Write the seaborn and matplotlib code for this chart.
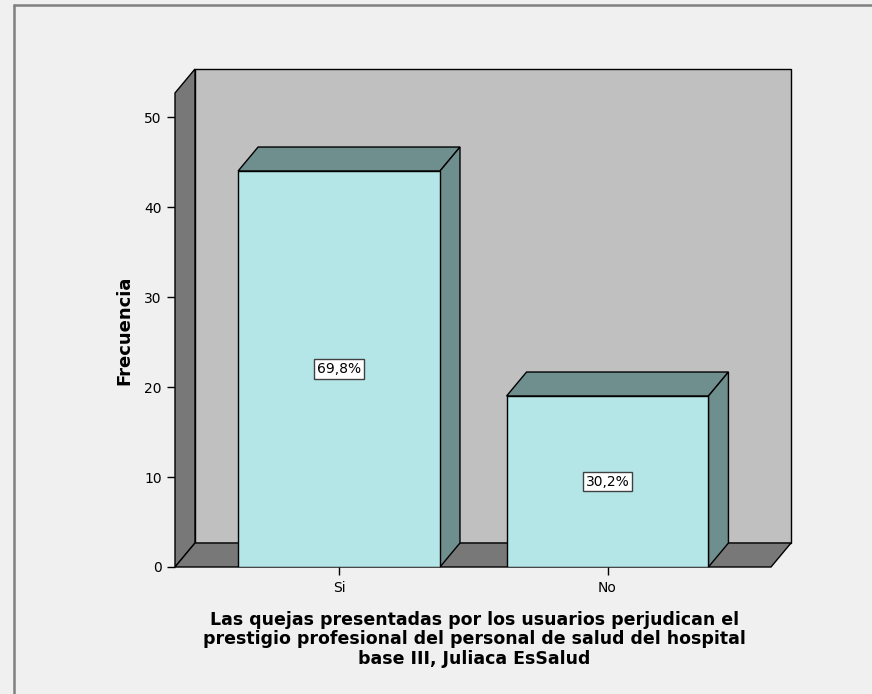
"""
Gráfico de barras estilo SPSS (3D) - quejas de usuarios, EsSalud Juliaca.
"""

import matplotlib
matplotlib.use('Agg')
import matplotlib.pyplot as plt
from matplotlib.patches import Polygon
from matplotlib.transforms import IdentityTransform
from matplotlib.lines import Line2D
import pandas as pd
import seaborn as sns

# Datos
categorias = ['Si', 'No']
frecuencias = [44, 19]
y_ticks = [0, 10, 20, 30, 40, 50]
titulo_x = ('Las quejas presentadas por los usuarios perjudican el\n'
            'prestigio profesional del personal de salud del hospital\n'
            'base III, Juliaca EsSalud')

# Colores
C_FRENTE = '#B4E6E8'
C_LADO = '#6F8E8E'
C_PARED = '#C0C0C0'
C_SUELO = '#787878'
FONDO = '#F0F0F0'

DX, DY = 20, 24  # profundidad 3D en pixeles

sns.set_style('ticks')
plt.rcParams['font.family'] = ['DejaVu Sans']
plt.rcParams['text.color'] = 'black'
plt.rcParams['axes.labelcolor'] = 'black'

fig = plt.figure(figsize=(8.72, 6.94), dpi=100, facecolor=FONDO)
ax = fig.add_axes([175 / 872, 127 / 694, 596 / 872, 474 / 694])
ax.set_facecolor('none')

df = pd.DataFrame({'cat': categorias, 'freq': frecuencias})
sns.barplot(data=df, x='cat', y='freq', color=C_FRENTE, saturation=1,
            width=0.752, edgecolor='black', linewidth=1, ax=ax, zorder=5)
ax.set_xlim(-0.611, 1.609)
ax.set_ylim(0, 52.67)
x0, x1 = ax.get_xlim()
ytop = ax.get_ylim()[1]


def pt(x, y, d=0.0):
    px, py = ax.transData.transform((x, y))
    return (px + d * DX, py + d * DY)


def cara(verts, color, z):
    poly = Polygon(verts, closed=True, facecolor=color, edgecolor='black',
                   linewidth=1, transform=IdentityTransform(), clip_on=False,
                   zorder=z)
    ax.add_artist(poly)


# Paredes y suelo
cara([pt(x0, 0, 1), pt(x1, 0, 1), pt(x1, ytop, 1), pt(x0, ytop, 1)], C_PARED, 1)
cara([pt(x0, 0, 0), pt(x0, 0, 1), pt(x0, ytop, 1), pt(x0, ytop, 0)], C_SUELO, 2)
cara([pt(x0, 0, 0), pt(x1, 0, 0), pt(x1, 0, 1), pt(x0, 0, 1)], C_SUELO, 2)

# Caras superior y lateral de cada barra
total = sum(frecuencias)
for p, v in zip(ax.patches, frecuencias):
    bx, w, h = p.get_x(), p.get_width(), p.get_height()
    cara([pt(bx, h, 0), pt(bx + w, h, 0), pt(bx + w, h, 1), pt(bx, h, 1)], C_LADO, 4)
    cara([pt(bx + w, 0, 0), pt(bx + w, 0, 1), pt(bx + w, h, 1), pt(bx + w, h, 0)], C_LADO, 4)
    etiqueta = f"{v / total * 100:.1f}%".replace('.', ',')
    ax.text(bx + w / 2, h / 2, etiqueta, ha='center', va='center', fontsize=10,
            color='black', zorder=7,
            bbox=dict(boxstyle='square,pad=0.2', fc='white', ec='#404040', lw=1))

# Ejes
for s in ax.spines.values():
    s.set_visible(False)
ax.set_yticks(y_ticks)
ax.tick_params(axis='both', direction='out', length=6, width=1, colors='black',
               labelsize=10, bottom=True, left=True)
ax.tick_params(axis='x', pad=4)
ax.set_ylabel('Frecuencia', fontsize=13, fontweight='bold', color='black')
ax.yaxis.set_label_coords(-0.0705, 0.5)
ax.set_xlabel(titulo_x, fontsize=12.5, fontweight='bold', linespacing=1.12,
              color='black')
ax.xaxis.set_label_coords(0.502, -0.092)

# Marco de la figura
fig.add_artist(Line2D([14 / 872, 1], [1 - 5 / 694] * 2, color='#808080', lw=1.8))
fig.add_artist(Line2D([14 / 872] * 2, [0, 1 - 5 / 694], color='#808080', lw=1.8))

plt.savefig('out.png', dpi=100, facecolor=FONDO)
plt.close()
